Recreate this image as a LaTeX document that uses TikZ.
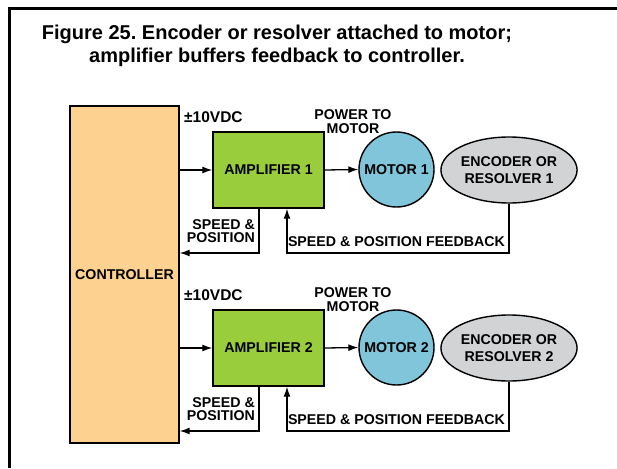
\documentclass[tikz,border=0pt]{standalone}
\usepackage{fontspec}
\setmainfont{Liberation Sans}
\usepackage{tikz}
\usetikzlibrary{arrows, arrows.meta}
\usetikzlibrary{positioning}
\usetikzlibrary{shapes.geometric}
\usepackage{xcolor}
\frenchspacing

\definecolor{ctrlorange}{HTML}{FDD18F}
\definecolor{ampgreen}{HTML}{9ACD3C}
\definecolor{motorblue}{HTML}{80C5DA}
\definecolor{encgray}{HTML}{D2D3D5}

\tikzset{
  lbl/.style={font=\bfseries\fontsize{14.2}{13.3}\selectfont, inner sep=0pt},
  blk/.style={draw, line width=1.4pt, lbl},
  wire/.style={line width=1.3pt, -{Latex[length=10pt, width=7pt]}}
}

\begin{document}
\begin{tikzpicture}[x=1pt, y=-1pt]

\useasboundingbox (0,0) rectangle (617,468);

%frame
\draw[line width=3pt] (9,468) -- (9,9) -- (617,9);

%title
\node[font=\bfseries\fontsize{20}{23}\selectfont, align=center] (title) at (277,45.5)
  {Figure 25. Encoder or resolver attached to motor;\\amplifier buffers feedback to controller.};

%controller
\node[blk, fill=ctrlorange, minimum width=109pt, minimum height=337pt] (ctrl) at (124.5,274.5) {CONTROLLER};

%channel 1
\node[blk, fill=ampgreen, minimum width=111pt, minimum height=76pt] (amp1) at (268.5,170) {AMPLIFIER 1};
\node[blk, circle, fill=motorblue, minimum size=75pt] (mot1) at (396.5,169.5) {MOTOR 1};
\node[blk, ellipse, fill=encgray, minimum width=108pt, minimum height=66pt, align=center,
      font=\bfseries\fontsize{14.2}{17}\selectfont] (enc1) at (509,170) {ENCODER OR\\RESOLVER 1};

%channel 2
\node[blk, fill=ampgreen, minimum width=111pt, minimum height=76pt] (amp2) at (268.5,348) {AMPLIFIER 2};
\node[blk, circle, fill=motorblue, minimum size=75pt] (mot2) at (396.5,347.5) {MOTOR 2};
\node[blk, ellipse, fill=encgray, minimum width=108pt, minimum height=66pt, align=center,
      font=\bfseries\fontsize{14.2}{17}\selectfont] (enc2) at (509,348) {ENCODER OR\\RESOLVER 2};

%corners of the return lines
\coordinate (sp1) at (259,253);
\coordinate (fb1) at (287,253);
\coordinate (sp2) at (259,431);
\coordinate (fb2) at (287,431);

%lines
\draw[wire] (ctrl.east |- amp1.west) -- (amp1.west);
\draw[wire] (amp1.east) -- (mot1.west);
\draw[wire] (amp1.south -| sp1) -- (sp1) -- (sp1 -| ctrl.east);
\draw[wire] (enc1.south) |- (fb1) -- (fb1 |- amp1.south);

\draw[wire] (ctrl.east |- amp2.west) -- (amp2.west);
\draw[wire] (amp2.east) -- (mot2.west);
\draw[wire] (amp2.south -| sp2) -- (sp2) -- (sp2 -| ctrl.east);
\draw[wire] (enc2.south) |- (fb2) -- (fb2 |- amp2.south);

%labels
\node[lbl, anchor=west, font=\bfseries\fontsize{15.5}{14}\selectfont] (vdc1) at (184,117) {±10VDC};
\node[lbl, align=center] (pwr1) at (353,121.5) {POWER TO\\MOTOR};
\node[lbl, anchor=east, align=right] (spd1) at (255,231) {SPEED \&\\POSITION};
\node[lbl] (fbk1) at (396.5,242) {SPEED \& POSITION FEEDBACK};

\node[lbl, anchor=west, font=\bfseries\fontsize{15.5}{14}\selectfont] (vdc2) at (184,295) {±10VDC};
\node[lbl, align=center] (pwr2) at (353,299.5) {POWER TO\\MOTOR};
\node[lbl, anchor=east, align=right] (spd2) at (255,409) {SPEED \&\\POSITION};
\node[lbl] (fbk2) at (396.5,420) {SPEED \& POSITION FEEDBACK};

\end{tikzpicture}
\end{document}
